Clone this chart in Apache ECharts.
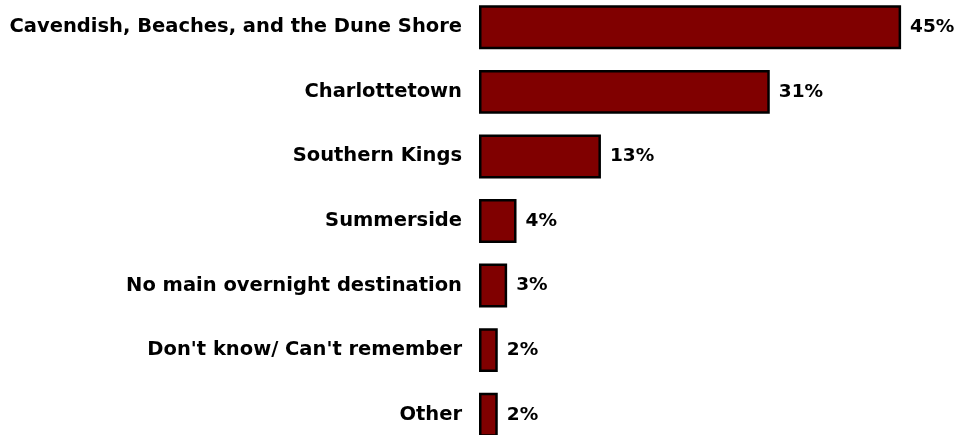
<!DOCTYPE html>
<html>
<head>
<meta charset="utf-8">
<script src="https://cdn.jsdelivr.net/npm/echarts@6/dist/echarts.min.js"></script>
<style>
  html, body { margin: 0; padding: 0; background: #fff; overflow: hidden; }
  #chart { width: 957px; height: 452px; margin-top: -5px; }
</style>
</head>
<body>
<div id="chart"></div>
<script>
// categories top to bottom
var categories = [
  'Cavendish, Beaches, and the Dune Shore',
  'Charlottetown',
  'Southern Kings',
  'Summerside',
  'No main overnight destination',
  "Don't know/ Can't remember",
  'Other'
];
var values = [45, 31, 13, 4, 3, 2, 2];

var myChart = echarts.init(document.getElementById('chart'));

var option = {
  animation: false,
  grid: { left: 479, right: 9, top: 0, bottom: 0 },
  xAxis: {
    type: 'value',
    min: 0,
    max: 50,
    show: false
  },
  yAxis: {
    type: 'category',
    inverse: true,
    data: categories,
    axisLine: { show: false },
    axisTick: { show: false },
    axisLabel: {
      margin: 17,
      color: '#000',
      fontFamily: 'DejaVu Sans',
      fontWeight: 'bold',
      fontSize: 19.5
    }
  },
  series: [{
    type: 'bar',
    data: values,
    barCategoryGap: '32%',
    itemStyle: {
      color: '#800000',
      borderColor: '#000',
      borderWidth: 2.5
    },
    label: {
      show: true,
      position: 'right',
      distance: 9,
      formatter: '{c}%',
      color: '#000',
      fontFamily: 'DejaVu Sans',
      fontWeight: 'bold',
      fontSize: 18.5
    }
  }]
};

myChart.setOption(option);
</script>
</body>
</html>
